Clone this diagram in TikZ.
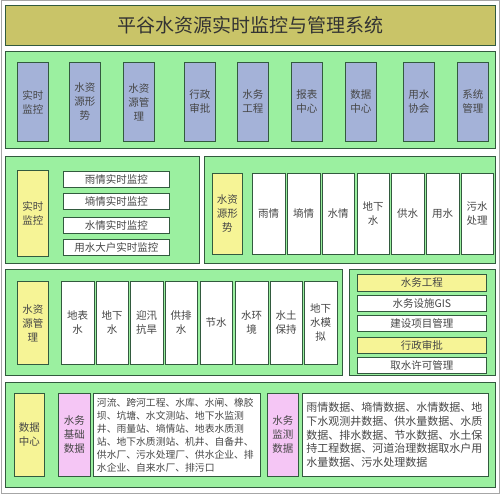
\documentclass[tikz,border=0pt]{standalone}
\usepackage{fontspec}
\setmainfont{Noto Sans CJK SC}

\definecolor{titlefill}{RGB}{201,196,104}
\definecolor{panelfill}{RGB}{155,240,160}
\definecolor{navfill}{RGB}{164,178,216}
\definecolor{sidefill}{RGB}{246,244,150}
\definecolor{datafill}{RGB}{245,198,245}
\definecolor{edge}{RGB}{50,90,62}
\definecolor{ink}{RGB}{70,70,70}

\tikzset{
	panel/.style={draw=edge, fill=panelfill, line width=1pt},
	box/.style={draw=edge, line width=0.9pt, anchor=north west, inner sep=0pt, align=center, text=ink, font=\fontsize{10.5}{14}\selectfont},
	navbox/.style={box, fill=navfill, minimum width=31pt, minimum height=79pt},
	sidebox/.style={box, fill=sidefill},
	databox/.style={box, fill=datafill},
	itembox/.style={box, fill=white},
}

\begin{document}
\begin{tikzpicture}[x=1pt, y=-1pt]
	\useasboundingbox (0,0) rectangle (500,494);
	\draw[black!35, line width=1pt] (1,1) rectangle (499,493);
	
	% title
	\node[box, fill=titlefill, minimum width=490pt, minimum height=40pt, text=black!80, font=\fontsize{19}{22}\selectfont] (title) at (5,5) {平谷水资源实时监控与管理系统};
	
	% main menu
	\draw[panel] (5,52) rectangle (495,149);
	\node[navbox] (nav1) at (17,62) {实时\\监控};
	\node[navbox] (nav2) at (69,62) {水资\\源形\\势};
	\node[navbox] (nav3) at (123,62) {水资\\源管\\理};
	\node[navbox] (nav4) at (184,62) {行政\\审批};
	\node[navbox] (nav5) at (237,62) {水务\\工程};
	\node[navbox] (nav6) at (291,62) {报表\\中心};
	\node[navbox] (nav7) at (345,62) {数据\\中心};
	\node[navbox] (nav8) at (403,62) {用水\\协会};
	\node[navbox] (nav9) at (457,62) {系统\\管理};
	
	% monitoring
	\draw[panel] (5,157) rectangle (199,263);
	\node[sidebox, minimum width=31pt, minimum height=86pt] (mon) at (17,170) {实时\\监控};
	\node[itembox, minimum width=106pt, minimum height=16pt] (mon1) at (63,171) {雨情实时监控};
	\node[itembox, minimum width=106pt, minimum height=16pt] (mon2) at (63,193.5) {墒情实时监控};
	\node[itembox, minimum width=106pt, minimum height=16pt] (mon3) at (63,217) {水情实时监控};
	\node[itembox, minimum width=106pt, minimum height=16pt] (mon4) at (63,239) {用水大户实时监控};
	
	% water situation
	\draw[panel] (204,157) rectangle (495,263);
	\node[sidebox, minimum width=30pt, minimum height=81pt] (sit) at (212,173) {水资\\源形\\势};
	\node[itembox, minimum width=32.5pt, minimum height=81pt] (sit1) at (252,173) {雨情};
	\node[itembox, minimum width=32.5pt, minimum height=81pt] (sit2) at (287,173) {墒情};
	\node[itembox, minimum width=32.5pt, minimum height=81pt] (sit3) at (321.5,173) {水情};
	\node[itembox, minimum width=32.5pt, minimum height=81pt] (sit4) at (356.5,173) {地下\\水};
	\node[itembox, minimum width=32.5pt, minimum height=81pt] (sit5) at (391,173) {供水};
	\node[itembox, minimum width=32.5pt, minimum height=81pt] (sit6) at (426,173) {用水};
	\node[itembox, minimum width=32.5pt, minimum height=81pt] (sit7) at (460.5,173) {污水\\处理};
	
	% water management
	\draw[panel] (5,269) rectangle (342,375);
	\node[sidebox, minimum width=31pt, minimum height=83pt] (man) at (17,281) {水资\\源管\\理};
	\node[itembox, minimum width=32.5pt, minimum height=83pt] (man1) at (61,281) {地表\\水};
	\node[itembox, minimum width=32.5pt, minimum height=83pt] (man2) at (95.5,281) {地下\\水};
	\node[itembox, minimum width=32.5pt, minimum height=83pt] (man3) at (130,281) {迎汛\\抗旱};
	\node[itembox, minimum width=32.5pt, minimum height=83pt] (man4) at (164.5,281) {供排\\水};
	\node[itembox, minimum width=32.5pt, minimum height=83pt] (man5) at (199.5,281) {节水};
	\node[itembox, minimum width=32.5pt, minimum height=83pt] (man6) at (235,281) {水环\\境};
	\node[itembox, minimum width=32.5pt, minimum height=83pt] (man7) at (269.5,281) {水土\\保持};
	\node[itembox, minimum width=32.5pt, minimum height=83pt] (man8) at (304,281) {地下\\水模\\拟};
	
	% works and approval
	\draw[panel] (349,269) rectangle (495,375);
	\node[sidebox, minimum width=129pt, minimum height=16.5pt] (wrk) at (357,274) {水务工程};
	\node[itembox, minimum width=129pt, minimum height=16.5pt] (wrk1) at (357,294.5) {水务设施GIS};
	\node[itembox, minimum width=129pt, minimum height=16.5pt] (wrk2) at (357,314.5) {建设项目管理};
	\node[sidebox, minimum width=129pt, minimum height=16.5pt] (apr) at (357,336.5) {行政审批};
	\node[itembox, minimum width=129pt, minimum height=15.5pt] (apr1) at (357,357) {取水许可管理};
	
	% data centre
	\draw[panel] (5,382) rectangle (495,487);
	\node[sidebox, minimum width=30pt, minimum height=83pt] (dat) at (14,393) {数据\\中心};
	\node[databox, minimum width=32pt, minimum height=83pt] (base) at (58,393) {水务\\基础\\数据};
	\node[itembox, minimum width=167pt, minimum height=83pt, text width=159pt, align=left, font=\fontsize{9.8}{13}\selectfont] (basetxt) at (92.5,393) {河流、跨河工程、水库、水闸、橡胶\\坝、坑塘、水文测站、地下水监测\\井、雨量站、墒情站、地表水质测\\站、地下水质测站、机井、自备井、\\供水厂、污水处理厂、供水企业、排\\水企业、自来水厂、排污口};
	\node[databox, minimum width=31pt, minimum height=83pt] (obs) at (267,393) {水务\\监测\\数据};
	\node[itembox, minimum width=186pt, minimum height=83pt, text width=178pt, align=left, font=\fontsize{11}{13.8}\selectfont] (obstxt) at (302,393) {雨情数据、墒情数据、水情数据、地\\下水观测井数据、供水量数据、水质\\数据、排水数据、节水数据、水土保\\持工程数据、河道治理数据取水户用\\水量数据、污水处理数据};
\end{tikzpicture}
\end{document}
